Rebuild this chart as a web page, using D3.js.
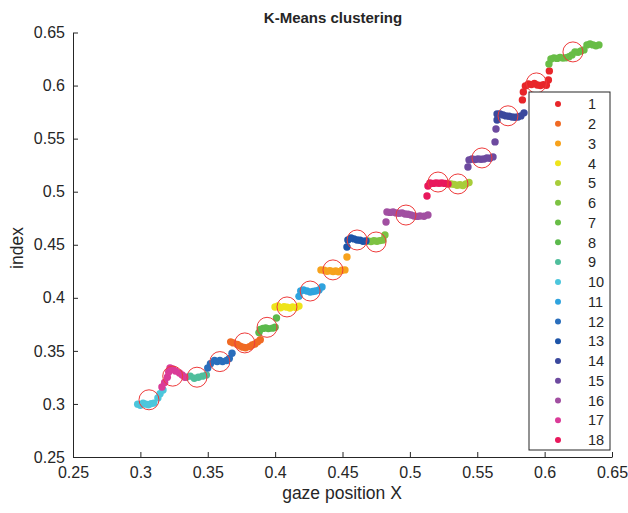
<!DOCTYPE html>
<html>
<head>
<meta charset="utf-8">
<script src="https://cdn.jsdelivr.net/npm/d3@7"></script>
<style>
  body { margin: 0; background: #fff; }
  text { font-family: "Liberation Sans", Arial, sans-serif; fill: #262626; }
</style>
</head>
<body>
<div id="chart"></div>
<script>
const width = 628
const height = 513

// cluster ids (legend order) and their colours
const clusterIds = d3.range(1, 19)
const clusterColors = [
  "#e8262a", "#f06a24", "#f7a21c", "#eee41b", "#a8cd3a", "#7dc242",
  "#68bd46", "#5bb94c", "#4fbe9c", "#4cc6dc", "#2fa3de", "#2a6ebc",
  "#1d54a8", "#3a489d", "#6d4a9f", "#a14fa1", "#da3b98", "#e8185c"
]

// gaze samples per cluster, [x, index]
const pts1 = [[0.5835,0.5865],[0.5842,0.5940],[0.5857,0.5996],[0.5880,0.6015],[0.5902,0.6009],[0.5924,0.6019],[0.5946,0.6006],[0.5969,0.6001],[0.5991,0.6009],[0.6013,0.6003],[0.6028,0.6053],[0.6035,0.6138]]
const pts2 = [[0.3670,0.3585],[0.3690,0.3575],[0.3720,0.3560],[0.3740,0.3545],[0.3760,0.3535],[0.3780,0.3530],[0.3810,0.3540],[0.3830,0.3555],[0.3850,0.3565],[0.3870,0.3585],[0.3890,0.3605]]
const pts3 = [[0.4340,0.4263],[0.4363,0.4260],[0.4385,0.4250],[0.4407,0.4255],[0.4430,0.4248],[0.4450,0.4252],[0.4470,0.4246],[0.4496,0.4260],[0.4518,0.4263],[0.4533,0.4385]]
const pts4 = [[0.3999,0.3913],[0.4020,0.3923],[0.4040,0.3907],[0.4066,0.3917],[0.4088,0.3912],[0.4110,0.3904],[0.4130,0.3915],[0.4155,0.3909],[0.4177,0.3922]]
const pts5 = [[0.5305,0.5073],[0.5327,0.5069],[0.5350,0.5061],[0.5372,0.5066],[0.5394,0.5059],[0.5416,0.5073],[0.5439,0.5086]]
const pts6 = [[0.4689,0.4536],[0.4711,0.4531],[0.4733,0.4538],[0.4756,0.4533],[0.4778,0.4539],[0.4800,0.4545],[0.4815,0.4592]]
const pts7 = [[0.6032,0.6204],[0.6047,0.6251],[0.6069,0.6261],[0.6092,0.6256],[0.6114,0.6264],[0.6136,0.6259],[0.6159,0.6262],[0.6181,0.6271],[0.6203,0.6289],[0.6225,0.6317],[0.6248,0.6314],[0.6270,0.6326],[0.6292,0.6336],[0.6314,0.6383],[0.6337,0.6393],[0.6359,0.6383],[0.6381,0.6374],[0.6403,0.6383]]
const pts8 = [[0.3880,0.3672],[0.3890,0.3702],[0.3910,0.3712],[0.3930,0.3717],[0.3950,0.3710],[0.3980,0.3714],[0.4000,0.3722],[0.4010,0.3810]]
const pts9 = [[0.3340,0.3252],[0.3370,0.3262],[0.3400,0.3242],[0.3430,0.3252],[0.3460,0.3262],[0.3490,0.3272]]
const pts10 = [[0.2980,0.2998],[0.3000,0.2988],[0.3020,0.3008],[0.3040,0.2998],[0.3060,0.2993],[0.3080,0.3003],[0.3100,0.3008],[0.3130,0.3057],[0.3146,0.3096],[0.3168,0.3131]]
const pts11 = [[0.4177,0.4014],[0.4190,0.4064],[0.4210,0.4074],[0.4236,0.4064],[0.4260,0.4054],[0.4280,0.4059],[0.4300,0.4064],[0.4326,0.4074],[0.4348,0.4103]]
const pts12 = [[0.3500,0.3339],[0.3520,0.3379],[0.3550,0.3409],[0.3570,0.3399],[0.3590,0.3409],[0.3610,0.3399],[0.3640,0.3409],[0.3660,0.3429],[0.3680,0.3478]]
const pts13 = [[0.4533,0.4479],[0.4540,0.4545],[0.4563,0.4565],[0.4585,0.4555],[0.4608,0.4545],[0.4630,0.4543],[0.4652,0.4533],[0.4674,0.4535]]
const pts14 = [[0.5647,0.5676],[0.5647,0.5733],[0.5669,0.5733],[0.5691,0.5723],[0.5713,0.5714],[0.5736,0.5711],[0.5758,0.5704],[0.5780,0.5701],[0.5802,0.5704],[0.5824,0.5714],[0.5847,0.5743]]
const pts15 = [[0.5431,0.5233],[0.5439,0.5299],[0.5461,0.5308],[0.5483,0.5303],[0.5505,0.5308],[0.5528,0.5305],[0.5550,0.5308],[0.5572,0.5318],[0.5594,0.5315],[0.5617,0.5328],[0.5632,0.5469],[0.5639,0.5591]]
const pts16 = [[0.4823,0.4714],[0.4830,0.4809],[0.4852,0.4805],[0.4875,0.4809],[0.4897,0.4800],[0.4919,0.4797],[0.4942,0.4800],[0.4964,0.4790],[0.4986,0.4787],[0.5008,0.4780],[0.5031,0.4771],[0.5053,0.4767],[0.5075,0.4771],[0.5105,0.4769],[0.5134,0.4780]]
const pts17 = [[0.3160,0.3159],[0.3180,0.3203],[0.3200,0.3252],[0.3210,0.3301],[0.3220,0.3340],[0.3240,0.3330],[0.3260,0.3311],[0.3290,0.3292],[0.3310,0.3272],[0.3330,0.3252]]
const pts18 = [[0.5127,0.4959],[0.5134,0.5053],[0.5149,0.5082],[0.5172,0.5078],[0.5194,0.5082],[0.5216,0.5080],[0.5238,0.5082],[0.5260,0.5078],[0.5283,0.5073]]

const clusterPoints = [pts1, pts2, pts3, pts4, pts5, pts6, pts7, pts8, pts9,
  pts10, pts11, pts12, pts13, pts14, pts15, pts16, pts17, pts18]

// k-means centres, cluster 1..18
const centroidX = [0.5939, 0.3775, 0.4429, 0.4088, 0.5357, 0.4749, 0.6210, 0.3940, 0.3420,
  0.3064, 0.4260, 0.3590, 0.4608, 0.5728, 0.5535, 0.4971, 0.3240, 0.5209]
const centroidY = [0.6025, 0.3575, 0.4263, 0.3914, 0.5073, 0.4526, 0.6317, 0.3722, 0.3252,
  0.3039, 0.4064, 0.3399, 0.4545, 0.5715, 0.5318, 0.4780, 0.3262, 0.5091]

const xTicks = [0.25, 0.3, 0.35, 0.4, 0.45, 0.5, 0.55, 0.6, 0.65]
const yTicks = [0.25, 0.3, 0.35, 0.4, 0.45, 0.5, 0.55, 0.6, 0.65]

const x = d3.scaleLinear().domain([0.25, 0.65]).range([73, 612])
const y = d3.scaleLinear().domain([0.25, 0.65]).range([457, 32.5])

const svg = d3.select("#chart").append("svg")
  .attr("width", width)
  .attr("height", height)

svg.append("rect").attr("width", width).attr("height", height).attr("fill", "#fff")

const fmt = v => String(+v.toFixed(2))

/* axes */

svg.append("g")
  .attr("transform", `translate(0,${y(0.25)})`)
  .call(d3.axisBottom(x).tickValues(xTicks).tickFormat(fmt).tickSizeInner(-5).tickSizeOuter(0).tickPadding(10))

svg.append("g")
  .attr("transform", `translate(${x(0.25)},0)`)
  .call(d3.axisLeft(y).tickValues(yTicks).tickFormat(fmt).tickSizeInner(-5).tickSizeOuter(0).tickPadding(8))

svg.selectAll(".domain, .tick line").attr("stroke", "#262626").attr("stroke-width", 1)
svg.selectAll(".tick text").attr("font-size", 16).attr("fill", "#262626")
  .style("font-family", "'Liberation Sans', Arial, sans-serif")

/* points */

clusterPoints.forEach((pts, i) => {
  svg.append("g").selectAll("circle")
    .data(pts)
    .join("circle")
    .attr("cx", d => x(d[0]))
    .attr("cy", d => y(d[1]))
    .attr("r", 3.7)
    .attr("fill", clusterColors[i])
})

/* centroids */

svg.append("g").selectAll("circle")
  .data(centroidX)
  .join("circle")
  .attr("cx", d => x(d))
  .attr("cy", (d, i) => y(centroidY[i]))
  .attr("r", 10)
  .attr("fill", "none")
  .attr("stroke", "#ee3b3b")
  .attr("stroke-width", 1)

/* labels */

svg.append("text")
  .attr("x", 333).attr("y", 23)
  .attr("text-anchor", "middle")
  .attr("font-size", 15)
  .attr("font-weight", "bold")
  .attr("fill", "#000")
  .text("K-Means clustering")

svg.append("text")
  .attr("x", 342).attr("y", 499)
  .attr("text-anchor", "middle")
  .attr("font-size", 17.5)
  .text("gaze position X")

svg.append("text")
  .attr("transform", `translate(23,248) rotate(-90)`)
  .attr("text-anchor", "middle")
  .attr("font-size", 17.5)
  .text("index")

/* legend */

const legend = svg.append("g")

legend.append("rect")
  .attr("x", 529).attr("y", 92)
  .attr("width", 81).attr("height", 358)
  .attr("fill", "#fff")
  .attr("stroke", "#262626")
  .attr("stroke-width", 1)

const rowY = d3.scaleLinear().domain([1, 18]).range([104, 440])

const rows = legend.selectAll("g.row")
  .data(clusterIds)
  .join("g")
  .attr("class", "row")
  .attr("transform", d => `translate(0,${rowY(d)})`)

rows.append("circle")
  .attr("cx", 558).attr("cy", 0).attr("r", 3)
  .attr("fill", (d, i) => clusterColors[i])

rows.append("text")
  .attr("x", 588).attr("y", 0)
  .attr("dy", "0.36em")
  .attr("font-size", 14.5)
  .text(d => d)
</script>
</body>
</html>
